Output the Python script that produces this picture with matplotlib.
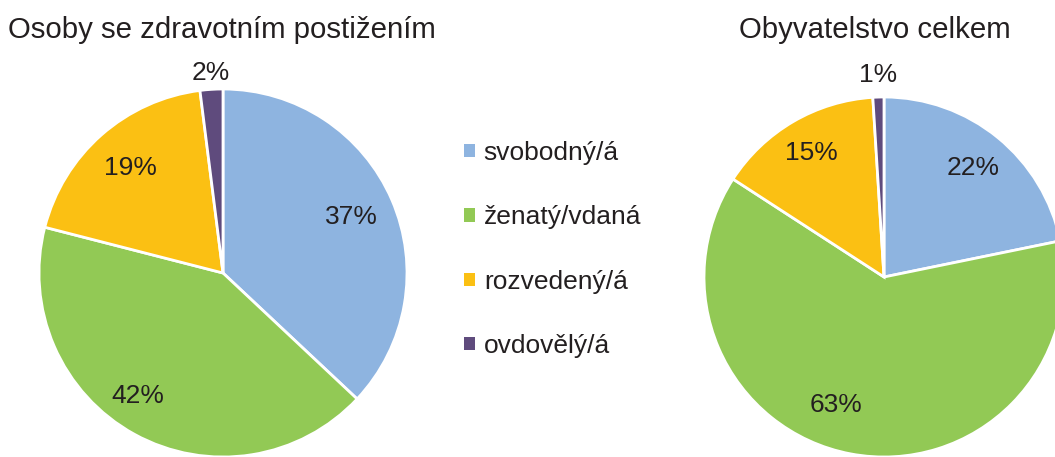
import numpy as np
import matplotlib.pyplot as plt
from matplotlib.patches import Patch

plt.rcParams['font.family'] = ['Liberation Sans', 'DejaVu Sans']

categories = ['svobodný/á', 'ženatý/vdaná', 'rozvedený/á', 'ovdovělý/á']
colors = ['#8EB4E0', '#92C955', '#FBC013', '#5F4B7D']

disabled = [37, 42, 19, 2]
population = [22, 63, 15, 1]

W, H = 1055, 457
fig = plt.figure(figsize=(W / 100, H / 100), dpi=100)


def draw_pie(cx, cy, r, values, title, title_x, label_dist, label_shift):
    # axes placed in pixel units so the pie lands where it does in the picture
    ax = fig.add_axes([(cx - r) / W, (H - cy - r) / H, 2 * r / W, 2 * r / H])
    wedges, _ = ax.pie(values, colors=colors, startangle=90, counterclock=False,
                       wedgeprops=dict(edgecolor='white', linewidth=2))
    ax.set_xlim(-1, 1)
    ax.set_ylim(-1, 1)
    ax.set_aspect('equal')
    ax.axis('off')
    for w, v, d, s in zip(wedges, values, label_dist, label_shift):
        mid = np.deg2rad((w.theta1 + w.theta2) / 2 + s)
        ax.text(d * np.cos(mid), d * np.sin(mid), f'{v}%', ha='center', va='center',
                fontsize=19, color='#231F20', clip_on=False)
    fig.text(title_x / W, 1 - 30 / H, title, ha='center', va='center',
             fontsize=21.2, color='#231F20')
    return wedges


wedges = draw_pie(223, 273, 184, disabled, 'Osoby se zdravotním postižením', 222,
                  [0.76, 0.815, 0.76, 1.09], [0, -6, 0, 0])
draw_pie(884, 277, 180, population, 'Obyvatelstvo celkem', 875,
         [0.78, 0.76, 0.80, 1.12], [0, -10, 0, 0])

handles = [Patch(facecolor=c, edgecolor='none') for c in colors]
fig.legend(handles, categories, loc='upper left', bbox_to_anchor=(464 / W, 1 - 141 / H),
           frameon=False, fontsize=19, labelspacing=1.53, handlelength=0.4,
           handleheight=0.4, handletextpad=0.35, borderpad=0, borderaxespad=0,
           labelcolor='#231F20')

fig.savefig('out.png', dpi=100)
